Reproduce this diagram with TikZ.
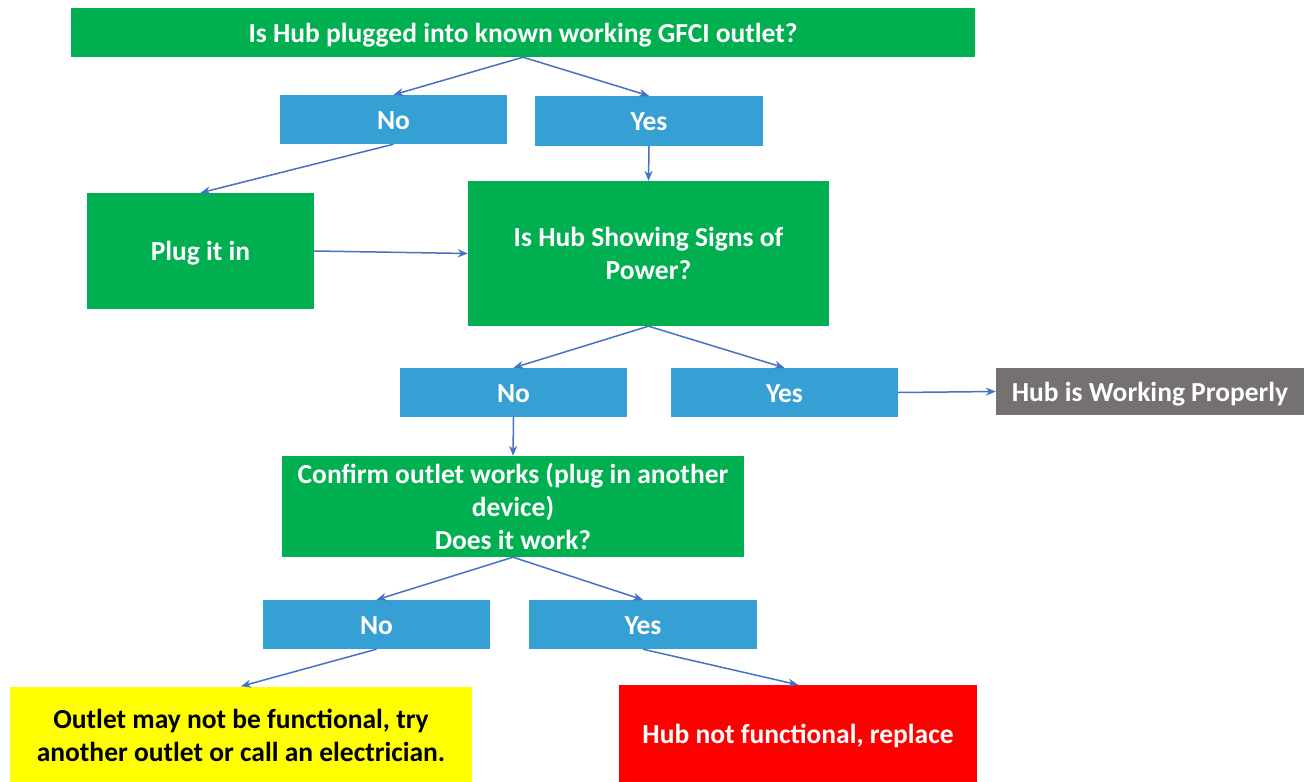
\documentclass[tikz,border=0pt]{standalone}
\usepackage{fontspec}
\setmainfont{Carlito}
\usetikzlibrary{arrows.meta}
\definecolor{cgreen}{HTML}{00B050}
\definecolor{cblue}{HTML}{369FD4}
\definecolor{cgrey}{HTML}{767171}
\definecolor{cyellow}{HTML}{FFFF00}
\definecolor{cred}{HTML}{FF0000}
\definecolor{carrow}{HTML}{4472C4}
\begin{document}
\begin{tikzpicture}[x=1pt,y=-1pt,
  box/.style={rectangle,inner sep=0pt,align=center,text=white,
    font=\fontsize{27.5}{33}\selectfont\bfseries},
  one/.style={text height=21pt,text depth=1.3pt},
  gbox/.style={box,fill=cgreen},
  bbox/.style={box,one,fill=cblue},
  conn/.style={draw=carrow,line width=1.5pt,-{Stealth[length=10pt,width=8pt]}}]
\useasboundingbox (0,0) rectangle (1307,782);
\node[gbox,one,minimum width=904pt,minimum height=49pt] (top) at (523,32.5) {Is Hub plugged into known working GFCI outlet?};
\node[bbox,minimum width=227pt,minimum height=49pt] (no1) at (393.5,119.5) {No};
\node[bbox,minimum width=228pt,minimum height=50pt] (yes1) at (649,121) {Yes};
\node[gbox,one,minimum width=227pt,minimum height=116pt] (plug) at (200.5,251) {Plug it in};
\node[gbox,minimum width=361pt,minimum height=145pt] (power) at (648.5,253.5) {Is Hub Showing Signs of\\Power?};
\node[bbox,minimum width=227pt,minimum height=49pt] (no2) at (513.5,392.5) {No};
\node[bbox,minimum width=227pt,minimum height=49pt] (yes2) at (784.5,392.5) {Yes};
\node[box,one,fill=cgrey,minimum width=308pt,minimum height=47pt] (work) at (1150,391.5) {Hub is Working Properly};
\node[gbox,minimum width=462pt,minimum height=101pt] (confirm) at (513,506.5) {Confirm outlet works (plug in another\\device)\\Does it work?};
\node[bbox,minimum width=227pt,minimum height=49pt] (no3) at (376.5,624.5) {No};
\node[bbox,minimum width=228pt,minimum height=49pt] (yes3) at (643,624.5) {Yes};
\node[box,fill=cyellow,text=black,minimum width=462pt,minimum height=97pt] (ylw) at (241,735) {Outlet may not be functional, try\\another outlet or call an electrician.};
\node[box,one,fill=cred,minimum width=358pt,minimum height=97pt] (red) at (798,733.5) {Hub not functional, replace};
\draw[conn] (top.south) -- (no1.north);
\draw[conn] (top.south) -- (yes1.north);
\draw[conn] (no1.south) -- (plug.north);
\draw[conn] (yes1.south) -- (power.north);
\draw[conn] (plug.east) -- (power.west);
\draw[conn] (power.south) -- (no2.north);
\draw[conn] (power.south) -- (yes2.north);
\draw[conn] (yes2.east) -- (work.west);
\draw[conn] (no2.south) -- (confirm.north);
\draw[conn] (confirm.south) -- (no3.north);
\draw[conn] (confirm.south) -- (yes3.north);
\draw[conn] (no3.south) -- (ylw.north);
\draw[conn] (yes3.south) -- (red.north);
\end{tikzpicture}
\end{document}
